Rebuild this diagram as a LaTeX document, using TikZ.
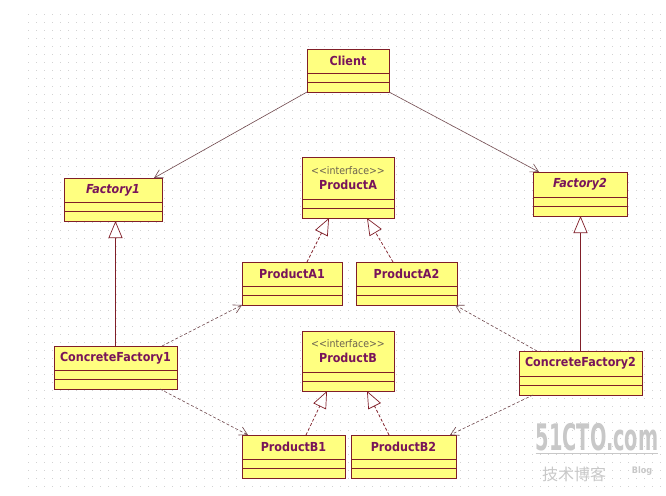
\documentclass[tikz,border=0pt]{standalone}
\usepackage{fontspec}
\setmainfont{DejaVu Sans Condensed}
\newfontfamily\cjkfont{Noto Sans CJK SC}
\usetikzlibrary{positioning,calc,arrows.meta}

\definecolor{classfill}{RGB}{255,255,128}
\definecolor{classline}{RGB}{128,30,40}
\definecolor{classtext}{RGB}{120,20,90}
\definecolor{stereotext}{RGB}{110,100,80}
\definecolor{linkline}{RGB}{110,70,75}
\definecolor{griddot}{RGB}{210,210,210}
\definecolor{watermark}{RGB}{200,200,200}

\newcommand{\umlstereo}[1]{{\mdseries\fontsize{10.5}{12}\selectfont\color{stereotext}#1}}
% class box: name, position, width, name height, text
\newcommand{\umlclass}[5]{%
  \node[classname, minimum width=#3, minimum height=#4] (#1) at #2 {#5};
  \node[classpart, minimum width=#3, below=0pt of #1] (#1-attr) {};
  \node[classpart, minimum width=#3, below=0pt of #1-attr] (#1-ops) {};
}

\begin{document}
\begin{tikzpicture}[
    x=1pt, y=-1pt,
    classname/.style={rectangle,draw=classline,fill=classfill,line width=0.8pt,inner sep=0pt,outer sep=0pt,
        font=\fontsize{12.4}{14}\selectfont\bfseries,text=classtext,align=center},
    classpart/.style={rectangle,draw=classline,fill=classfill,line width=0.8pt,inner sep=0pt,outer sep=0pt,minimum height=9.5pt},
    assoc/.style={draw=linkline,line width=0.6pt,-{Straight Barb[length=8pt,width=9pt]}},
    depend/.style={assoc,dash pattern=on 3pt off 2pt},
    inherit/.style={draw=classline,line width=0.7pt,-{Triangle[length=17pt,width=14pt,fill=white]}},
    realize/.style={inherit,dash pattern=on 3pt off 2pt},
    watermark text/.style={text=watermark,inner sep=0pt},
]
    \useasboundingbox (0,0) rectangle (666,495);
    \fill[white] (0,0) rectangle (666,495);
    % dotted grid
    \foreach \gx in {28,36,...,660}
        \foreach \gy in {14,22,...,490}
            \fill[griddot] (\gx,\gy) rectangle ++(1,1);

    \umlclass{client}{(348,61)}{82pt}{24pt}{Client}
    \umlclass{factory1}{(113,190)}{98pt}{24pt}{\itshape Factory1}
    \umlclass{factory2}{(580,184.5)}{94pt}{25pt}{\itshape Factory2}
    \umlclass{productA}{(348,178)}{92pt}{42pt}{\umlstereo{<{}<interface>{}>}\\[1pt]ProductA}
    \umlclass{productA1}{(292,274)}{100pt}{24pt}{ProductA1}
    \umlclass{productA2}{(406.5,274)}{101pt}{24pt}{ProductA2}
    \umlclass{concrete1}{(115.5,358)}{123pt}{24pt}{ConcreteFactory1}
    \umlclass{concrete2}{(580.5,363.5)}{123pt}{25pt}{ConcreteFactory2}
    \umlclass{productB}{(348,351.5)}{92pt}{41pt}{\umlstereo{<{}<interface>{}>}\\[1pt]ProductB}
    \umlclass{productB1}{(293.5,447)}{103pt}{24pt}{ProductB1}
    \umlclass{productB2}{(403.5,447)}{105pt}{24pt}{ProductB2}

    \path[assoc] (client-ops.south west) -- ([xshift=-8pt]factory1.north east);
    \path[assoc] (client-ops.south east) -- ([xshift=6pt]factory2.north west);
    \path[inherit] (concrete1.north) -- (concrete1.north |- factory1-ops.south);
    \path[inherit] (concrete2.north) -- (concrete2.north |- factory2-ops.south);
    \path[realize] ([xshift=15pt]productA1.north) -- ([xshift=-19pt]productA-ops.south);
    \path[realize] ([xshift=-13.5pt]productA2.north) -- ([xshift=19pt]productA-ops.south);
    \path[realize] ([xshift=12.5pt]productB1.north) -- ([xshift=-21pt]productB-ops.south);
    \path[realize] ([xshift=-14.5pt]productB2.north) -- ([xshift=19pt]productB-ops.south);
    \path[depend] ([xshift=-15pt]concrete1.north east) -- (productA1-ops.south west);
    \path[depend] ([xshift=-17pt]concrete1-ops.south east) -- ([xshift=6pt]productB1.north west);
    \path[depend] ([xshift=18pt]concrete2.north west) -- ([xshift=-2pt]productA2-ops.south east);
    \path[depend] ([xshift=14pt]concrete2-ops.south west) -- ([xshift=-6pt]productB2.north east);

    % watermark
    \node[watermark text,font=\fontsize{21.5}{22}\selectfont\bfseries,yscale=1.7,transform shape] (wm) at (597,437) {51CTO.com};
    \draw[watermark,line width=1.2pt] ([yshift=-2pt]wm.south west) -- ([yshift=-2pt]wm.south east);
    \node[watermark text,font=\cjkfont\fontsize{16}{17}\selectfont] (wmcn) at (574,474) {技术博客};
    \node[watermark text,font=\fontsize{9}{10}\selectfont\bfseries] (wmblog) at (642,471) {Blog};
\end{tikzpicture}
\end{document}
